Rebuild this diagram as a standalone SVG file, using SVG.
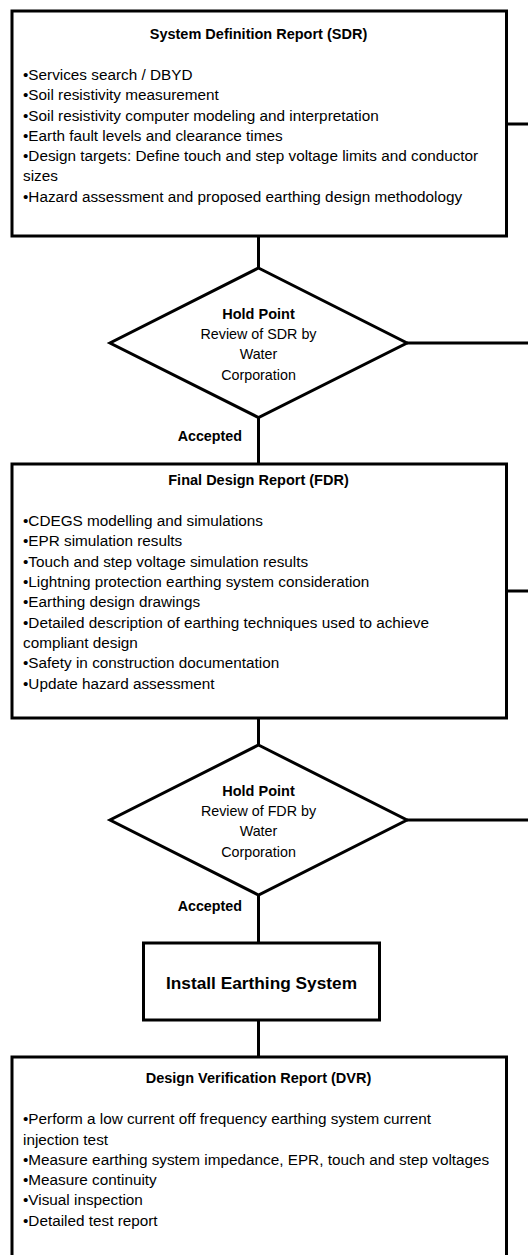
<svg xmlns="http://www.w3.org/2000/svg" width="528" height="1255" viewBox="0 0 528 1255">
<style>
.box{fill:#fff;stroke:#000;stroke-width:3}
.conn{fill:none;stroke:#000;stroke-width:3}
text{font-family:"Liberation Sans",Arial,sans-serif;fill:#000}
.ttl{font-size:14.5px;font-weight:bold;text-anchor:middle}
.bul{font-size:15.3px}
.dt{font-size:14.3px;text-anchor:middle}
.dtb{font-size:14.5px;font-weight:bold;text-anchor:middle}
.acc{font-size:14.3px;font-weight:bold;text-anchor:end}
.inst{font-size:17.3px;font-weight:bold;text-anchor:middle}
</style>
<rect width="528" height="1255" fill="#fff"/>
<g id="connectors">
<line class="conn" x1="258.5" y1="236" x2="258.5" y2="268"/>
<line class="conn" x1="258.5" y1="417.5" x2="258.5" y2="464"/>
<line class="conn" x1="258.5" y1="718" x2="258.5" y2="745"/>
<line class="conn" x1="258.5" y1="895" x2="258.5" y2="943"/>
<line class="conn" x1="258.5" y1="1020" x2="258.5" y2="1057"/>
<line class="conn" x1="506.5" y1="124" x2="528" y2="124"/>
<line class="conn" x1="407" y1="343" x2="528" y2="343"/>
<line class="conn" x1="506.5" y1="591" x2="528" y2="591"/>
<line class="conn" x1="407" y1="820" x2="528" y2="820"/>
<text class="acc" x="242" y="441">Accepted</text>
<text class="acc" x="242" y="911">Accepted</text>
</g>
<g id="sdr">
<rect class="box" x="12" y="11" width="494.5" height="225"/>
<text class="ttl" x="258.5" y="39">System Definition Report (SDR)</text>
<text class="bul" x="23" y="80">•Services search / DBYD</text>
<text class="bul" x="23" y="100.2">•Soil resistivity measurement</text>
<text class="bul" x="23" y="120.5">•Soil resistivity computer modeling and interpretation</text>
<text class="bul" x="23" y="140.7">•Earth fault levels and clearance times</text>
<text class="bul" x="23" y="161">•Design targets: Define touch and step voltage limits and conductor</text>
<text class="bul" x="23" y="181.2">sizes</text>
<text class="bul" x="23" y="201.5">•Hazard assessment and proposed earthing  design methodology</text>
</g>
<g id="hold1">
<polygon class="box" points="258.5,268 407,343 258.5,417.5 110,343"/>
<text class="dtb" x="258.5" y="319">Hold Point</text>
<text class="dt" x="258.5" y="339.2">Review of SDR by</text>
<text class="dt" x="258.5" y="359.4">Water</text>
<text class="dt" x="258.5" y="379.6">Corporation</text>
</g>
<g id="fdr">
<rect class="box" x="12" y="464" width="494.5" height="254"/>
<text class="ttl" x="258.5" y="485">Final Design Report (FDR)</text>
<text class="bul" x="23" y="526">•CDEGS modelling and simulations</text>
<text class="bul" x="23" y="546.3">•EPR simulation results</text>
<text class="bul" x="23" y="566.6">•Touch and step voltage simulation results</text>
<text class="bul" x="23" y="587">•Lightning protection earthing system consideration</text>
<text class="bul" x="23" y="607.3">•Earthing design drawings</text>
<text class="bul" x="23" y="627.7">•Detailed description of earthing techniques used to achieve</text>
<text class="bul" x="23" y="648">compliant design</text>
<text class="bul" x="23" y="668.3">•Safety in construction documentation</text>
<text class="bul" x="23" y="688.7">•Update hazard assessment</text>
</g>
<g id="hold2">
<polygon class="box" points="258.5,745 407,820 258.5,895 110,820"/>
<text class="dtb" x="258.5" y="795.9">Hold Point</text>
<text class="dt" x="258.5" y="816.1">Review of FDR by</text>
<text class="dt" x="258.5" y="836.3">Water</text>
<text class="dt" x="258.5" y="856.5">Corporation</text>
</g>
<g id="install">
<rect class="box" x="143.5" y="943" width="236" height="77"/>
<text class="inst" x="261.5" y="988.7">Install Earthing System</text>
</g>
<g id="dvr">
<rect class="box" x="12" y="1057" width="494.5" height="260"/>
<text class="ttl" x="258.5" y="1083">Design Verification Report (DVR)</text>
<text class="bul" x="23" y="1124.3">•Perform a low current off frequency earthing system current</text>
<text class="bul" x="23" y="1144.6">injection test</text>
<text class="bul" x="23" y="1164.8">•Measure earthing system impedance, EPR, touch and step voltages</text>
<text class="bul" x="23" y="1185">•Measure continuity</text>
<text class="bul" x="23" y="1205.2">•Visual inspection</text>
<text class="bul" x="23" y="1225.5">•Detailed test report</text>
</g>
</svg>
